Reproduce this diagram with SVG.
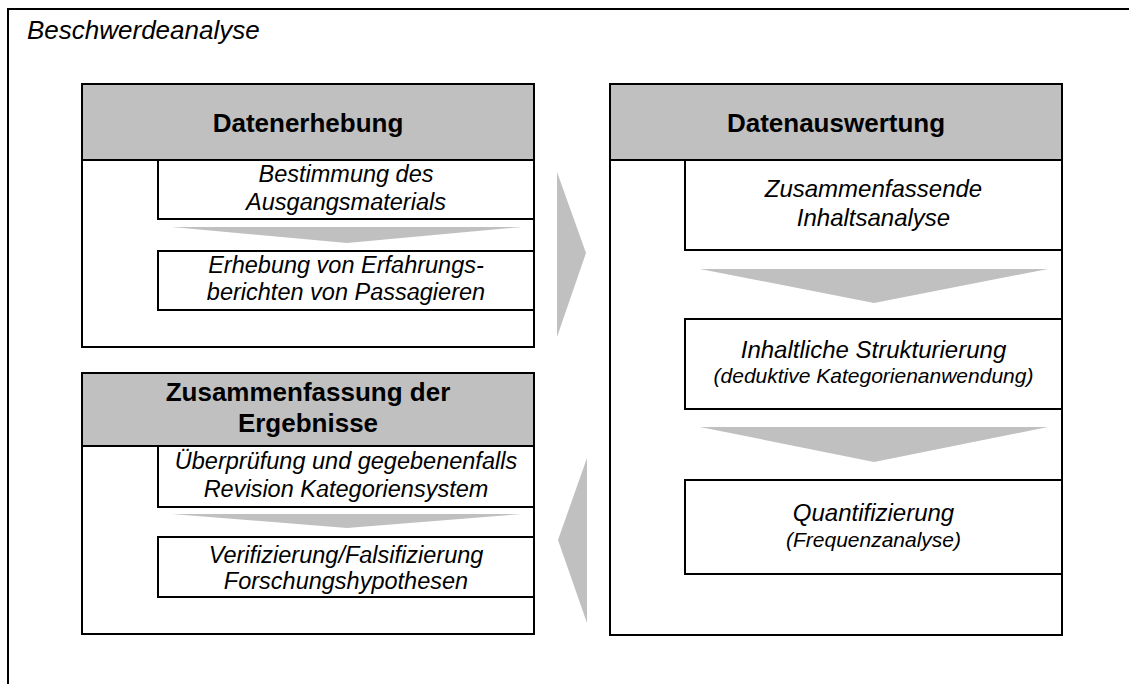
<svg xmlns="http://www.w3.org/2000/svg" width="1129" height="684" viewBox="0 0 1129 684">
<style>
.frame{fill:none;stroke:#000;stroke-width:2}
.box{fill:#fff;stroke:#000;stroke-width:2}
.hdr{fill:#c0c0c0;stroke:#000;stroke-width:2}
.inner{fill:#fff;stroke:#000;stroke-width:2}
.arr{fill:#c0c0c0;stroke:none}
.title{font-family:"Liberation Sans",Arial,sans-serif;font-style:italic;font-size:26px;fill:#000}
.h{font-family:"Liberation Sans",Arial,sans-serif;font-weight:bold;font-size:26px;fill:#000;text-anchor:middle}
.t{font-family:"Liberation Sans",Arial,sans-serif;font-style:italic;font-size:23.5px;fill:#000;text-anchor:middle}
.tr{font-family:"Liberation Sans",Arial,sans-serif;font-style:italic;font-size:24px;fill:#000;text-anchor:middle}
.s{font-family:"Liberation Sans",Arial,sans-serif;font-style:italic;font-size:21px;fill:#000;text-anchor:middle}
</style>
<rect class="frame" x="8" y="9" width="1200" height="800"/>
<text class="title" x="27" y="39">Beschwerdeanalyse</text>

<g id="datenerhebung">
<rect class="box" x="82" y="84" width="452" height="263"/>
<rect class="hdr" x="82" y="84" width="452" height="76"/>
<text class="h" x="308" y="132">Datenerhebung</text>
<rect class="inner" x="158" y="160" width="376" height="59"/>
<text class="t" x="346" y="182">Bestimmung des</text>
<text class="t" x="346" y="210">Ausgangsmaterials</text>
<rect class="inner" x="158" y="251" width="376" height="59"/>
<text class="t" x="346" y="273">Erhebung von Erfahrungs-</text>
<text class="t" x="346" y="300">berichten von Passagieren</text>
</g>

<g id="zusammenfassung">
<rect class="box" x="82" y="373" width="452" height="261"/>
<rect class="hdr" x="82" y="373" width="452" height="73"/>
<text class="h" x="308" y="401">Zusammenfassung der</text>
<text class="h" x="308" y="432">Ergebnisse</text>
<rect class="inner" x="158" y="446" width="376" height="61"/>
<text class="t" x="346" y="469">Überprüfung und gegebenenfalls</text>
<text class="t" x="346" y="497">Revision Kategoriensystem</text>
<rect class="inner" x="158" y="537" width="376" height="60"/>
<text class="t" x="346" y="563">Verifizierung/Falsifizierung</text>
<text class="t" x="346" y="589">Forschungshypothesen</text>
</g>

<g id="datenauswertung">
<rect class="box" x="610" y="84" width="452" height="551"/>
<rect class="hdr" x="610" y="84" width="452" height="76"/>
<text class="h" x="836" y="132">Datenauswertung</text>
<rect class="inner" x="685" y="160" width="377" height="90"/>
<text class="tr" x="873.5" y="197">Zusammenfassende</text>
<text class="tr" x="873.5" y="226">Inhaltsanalyse</text>
<rect class="inner" x="685" y="319" width="377" height="90"/>
<text class="tr" x="873.5" y="358">Inhaltliche Strukturierung</text>
<text class="s" x="873.5" y="383">(deduktive Kategorienanwendung)</text>
<rect class="inner" x="685" y="480" width="377" height="94"/>
<text class="tr" x="873.5" y="521">Quantifizierung</text>
<text class="s" x="873.5" y="547">(Frequenzanalyse)</text>
</g>

<g id="connectors">
<polygon class="arr" points="172,227 522,227 347,243"/>
<polygon class="arr" points="172,514 522,514 347,528"/>
<polygon class="arr" points="700,269 1048,269 874,303"/>
<polygon class="arr" points="700,427 1048,427 874,462"/>
<polygon class="arr" points="557,172 586,253 557,337"/>
<polygon class="arr" points="587,458 558,540 587,623"/>
</g>
</svg>
